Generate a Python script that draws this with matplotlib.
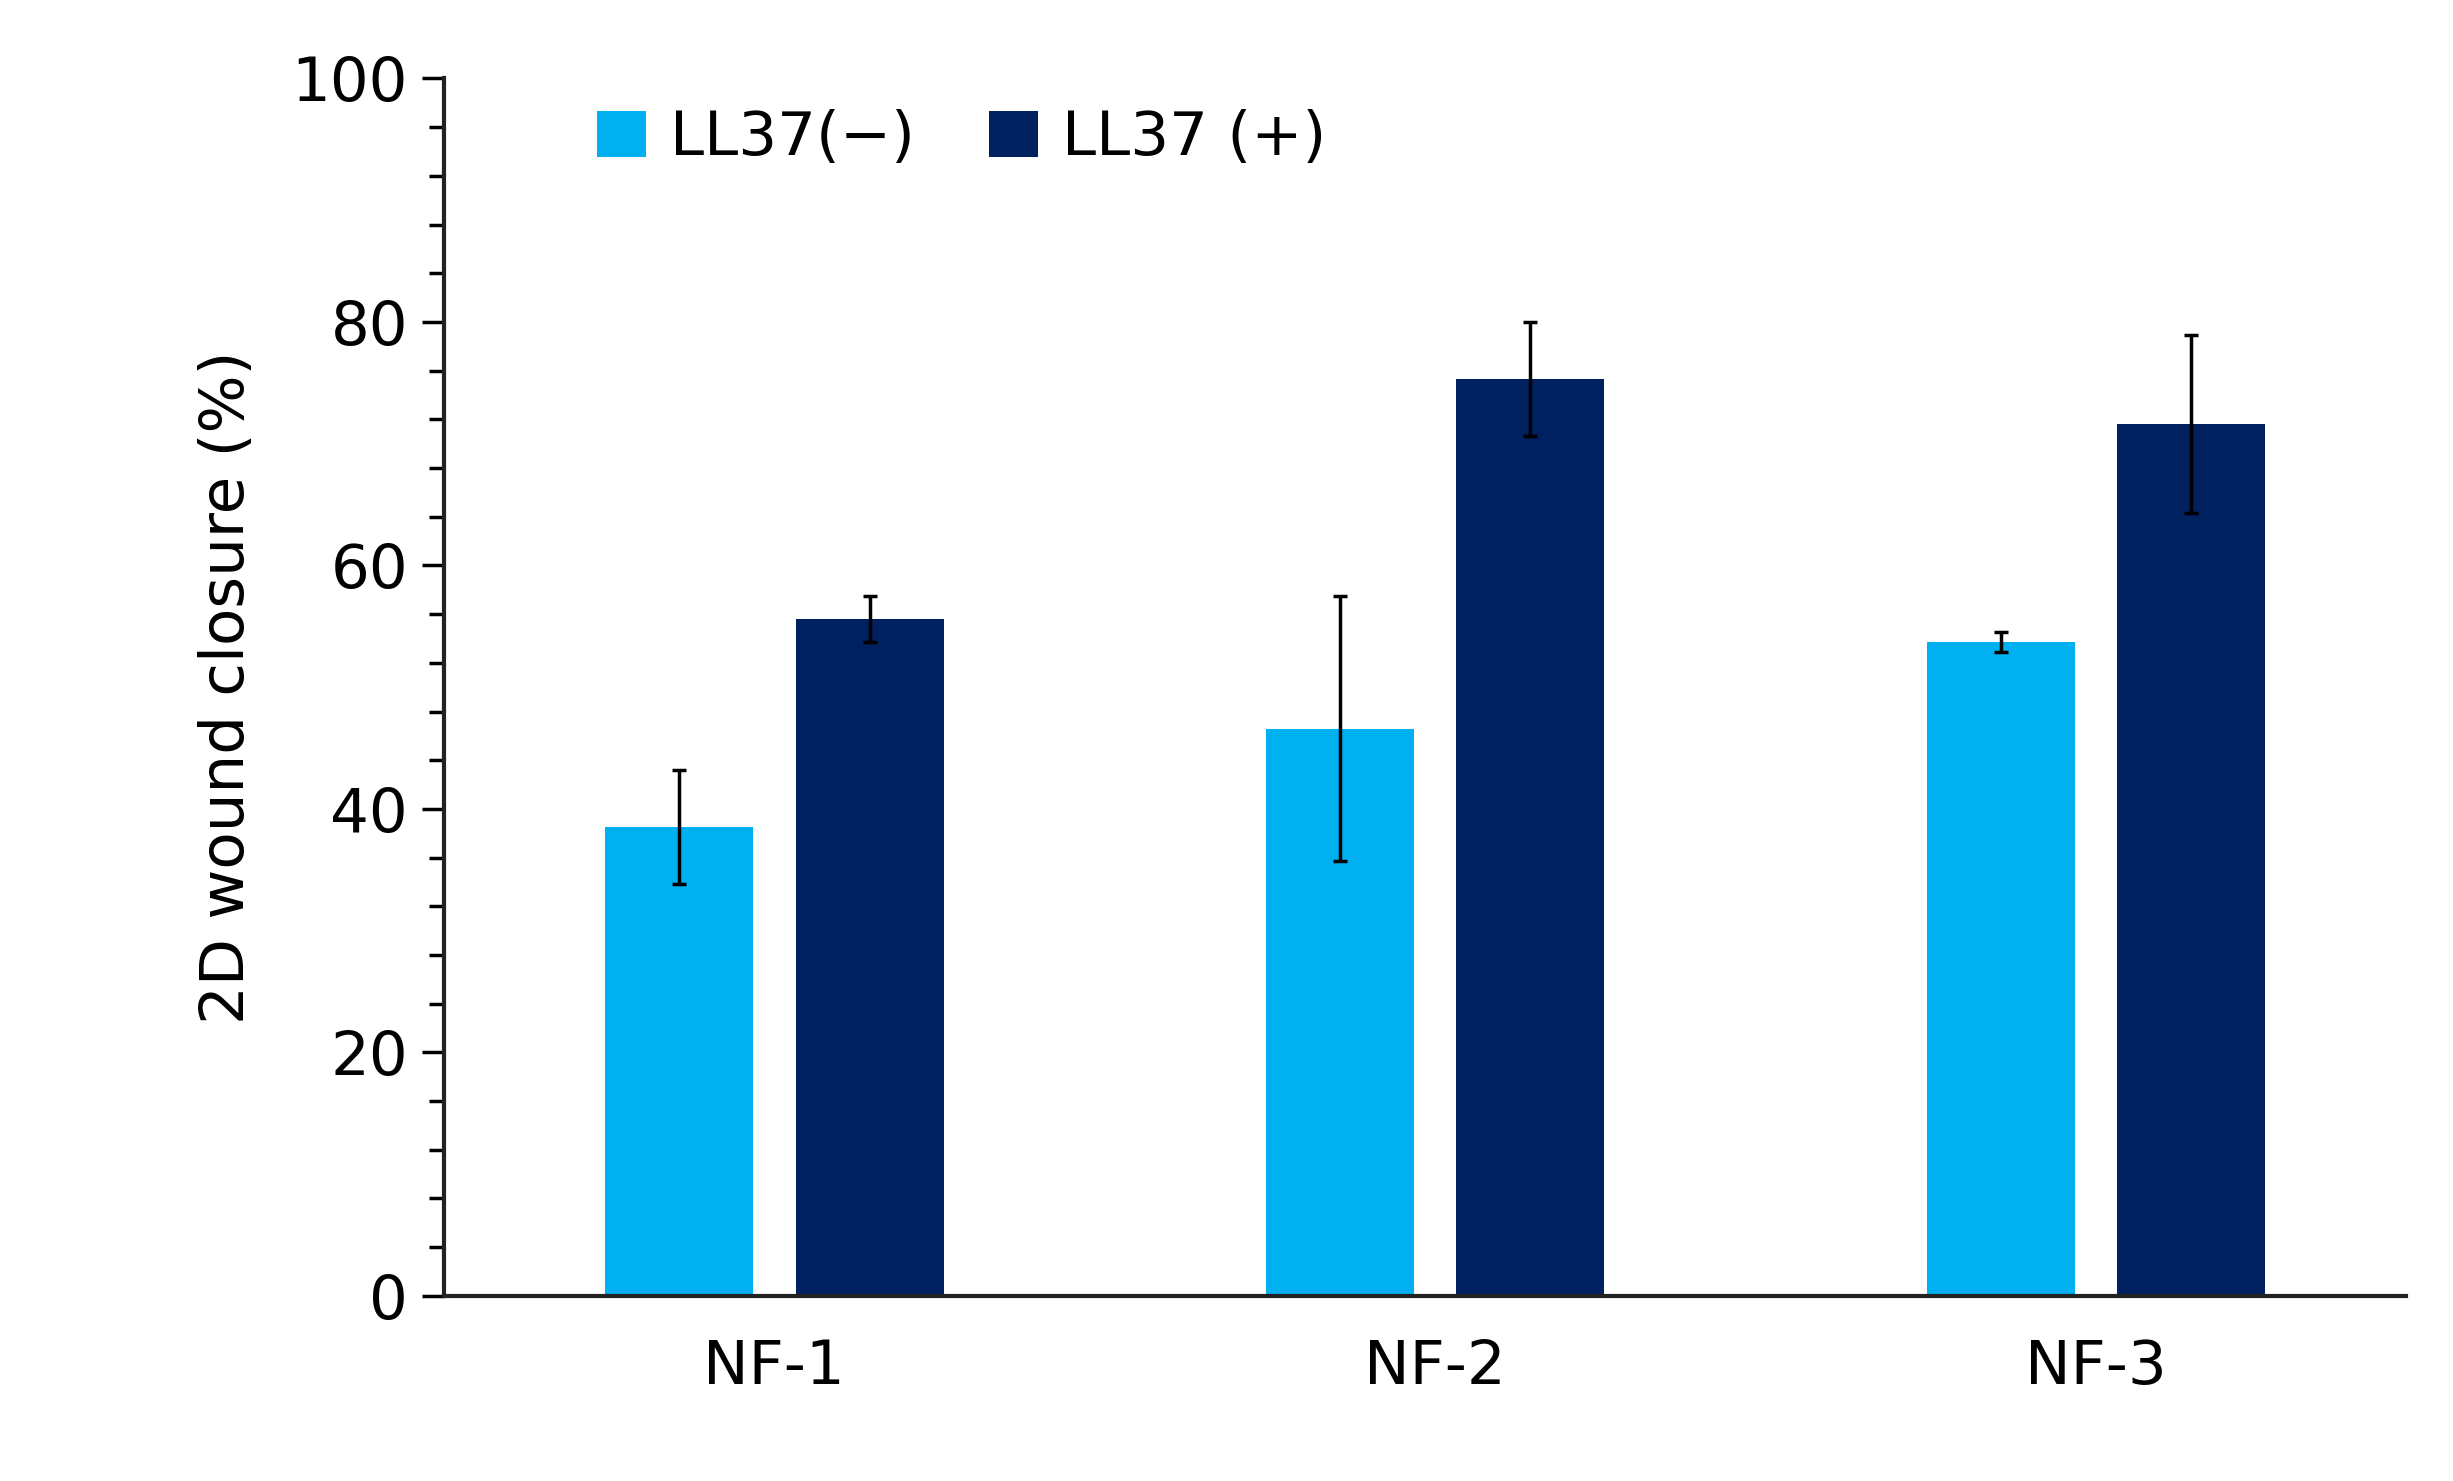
import numpy as np
import matplotlib.pyplot as plt
import matplotlib.ticker as ticker

groups = ['NF-1', 'NF-2', 'NF-3']
neg_vals = [38.5, 46.6, 53.7]
neg_err = [4.7, 10.9, 0.8]
pos_vals = [55.6, 75.3, 71.6]
pos_err = [1.9, 4.7, 7.3]
series_labels = ['LL37(\u2212)', 'LL37 (+)']

fontsize = 44
fig = plt.figure(figsize=(24.53, 14.81), dpi=100)
ax = fig.add_axes([0.181, 0.125, 0.80, 0.822])

x = np.arange(len(groups))
w = 0.224
off = 0.144
ekw = dict(elinewidth=2.5, capsize=5, capthick=2.5, ecolor='black')
ax.bar(x - off, neg_vals, w, yerr=neg_err, color='#00B0F0', label=series_labels[0], error_kw=ekw)
ax.bar(x + off, pos_vals, w, yerr=pos_err, color='#002060', label=series_labels[1], error_kw=ekw)

ax.set_xlim(-0.5, 2.47)
ax.set_ylim(0, 100)
ax.set_xticks(x)
ax.set_xticklabels(groups)
ax.yaxis.set_major_locator(ticker.MultipleLocator(20))
ax.yaxis.set_minor_locator(ticker.MultipleLocator(4))
ax.tick_params(axis='y', which='major', length=16, width=2.5, labelsize=fontsize, pad=10)
ax.tick_params(axis='y', which='minor', length=11, width=2.5)
ax.tick_params(axis='x', length=0, labelsize=fontsize, pad=30)
ax.spines['top'].set_visible(False)
ax.spines['right'].set_visible(False)
for s in ('left', 'bottom'):
    ax.spines[s].set_linewidth(3)
    ax.spines[s].set_color('#222222')
ax.set_ylabel('2D wound closure (%)', fontsize=fontsize, labelpad=25)

ax.legend(loc='upper left', bbox_to_anchor=(0.05, 1.02), ncol=2, frameon=False,
          fontsize=fontsize, handlelength=0.8, handleheight=0.8, columnspacing=1.2,
          handletextpad=0.4)

fig.savefig('out.png', dpi=100)
